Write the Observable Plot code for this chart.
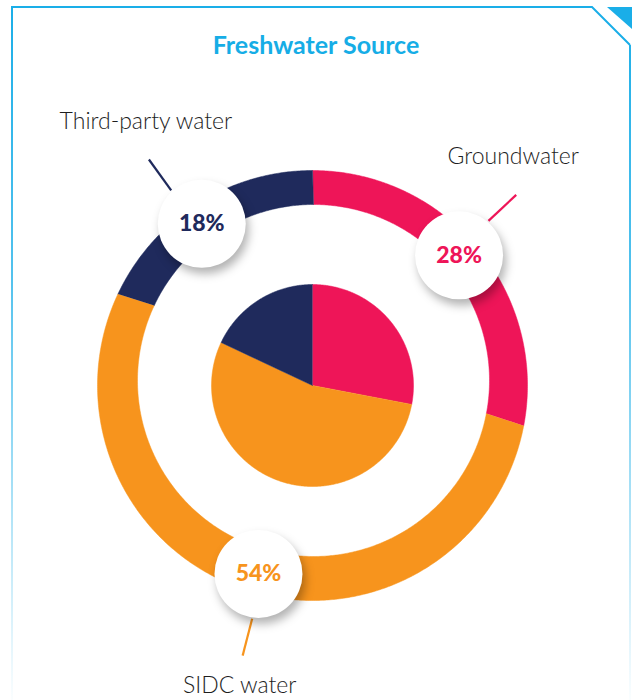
<!DOCTYPE html>
<html>
<head>
<meta charset="utf-8">
<script src="https://cdn.jsdelivr.net/npm/d3@7"></script>
<script src="https://cdn.jsdelivr.net/npm/@observablehq/plot@0.6"></script>
<style>
  html, body { margin: 0; padding: 0; background: #fff; }
  #wrap { position: relative; width: 632px; height: 700px; overflow: hidden; font-family: Lato, "Open Sans", sans-serif; }
  #title { box-sizing: border-box; height: 70px; padding-top: 32px; text-align: center; font-size: 25px; line-height: 24px; font-weight: 700; color: #16ade6; }
  #frame { position: absolute; left: 0; top: 0; pointer-events: none; }
  #chart svg { display: block; }
</style>
</head>
<body>
<div id="wrap">
  <svg id="frame" width="632" height="700">
    <defs>
      <linearGradient id="fade" gradientUnits="userSpaceOnUse" x1="0" y1="0" x2="0" y2="700">
        <stop offset="0" stop-color="#1aaee8" stop-opacity="1"/>
        <stop offset="0.4" stop-color="#1aaee8" stop-opacity="0.75"/>
        <stop offset="1" stop-color="#1aaee8" stop-opacity="0.02"/>
      </linearGradient>
    </defs>
    <path d="M12,7 H592 L630,45" fill="none" stroke="#1aaee8" stroke-width="2"/>
    <line x1="12" y1="6" x2="12" y2="700" stroke="url(#fade)" stroke-width="2"/>
    <line x1="630" y1="45" x2="630" y2="700" stroke="url(#fade)" stroke-width="2"/>
    <polygon points="607,7 632,7 632,29" fill="#1aaee8"/>
  </svg>
  <div id="title">Freshwater Source</div>
  <div id="chart"></div>
</div>
<script>
// ---- data ----
const categories = ["Groundwater", "SIDC water", "Third-party water"];
const shares = [28, 54, 18];
const pctLabels = ["28%", "54%", "18%"];

// ---- styling ----
const palette = ["#ee1558", "#f7941d", "#1f2a5c"];
const R_OUT = 215, R_IN = 176, HOLE_DX = 1, HOLE_DY = 5, R_PIE = 101;
const R_BUBBLE = 196, BUBBLE_SHIFT = -2;
const LEAD0 = 241, LEAD1 = 279, LEAD_SHIFT = -3.5, GAP_TOP = 38, GAP_BOTTOM = 30, LABEL_DX = -3;

const total = d3.sum(shares);
let acc = 0;
const slices = categories.map((cat, i) => {
  const a0 = acc / total * 360;
  acc += shares[i];
  const a1 = acc / total * 360;
  return {cat, value: shares[i], label: pctLabels[i], a0, a1, mid: (a0 + a1) / 2};
});

const rad = (deg) => deg * Math.PI / 180;
const pt = (r, deg, cx = 0, cy = 0) => ({x: cx + r * Math.sin(rad(deg)), y: cy + r * Math.cos(rad(deg))});
function arc(r, a0, a1, cx = 0, cy = 0) {
  const n = Math.max(2, Math.ceil(Math.abs(a1 - a0) / 0.5));
  return d3.range(n + 1).map(k => pt(r, a0 + (a1 - a0) * k / n, cx, cy));
}

const ringRows = slices.flatMap(s => [
  ...arc(R_OUT, s.a0, s.a1),
  ...arc(R_IN, s.a1, s.a0, HOLE_DX, HOLE_DY)
].map(p => ({...p, cat: s.cat})));

const pieRows = slices.flatMap(s => [
  {x: 0, y: 0},
  ...arc(R_PIE, s.a0, s.a1)
].map(p => ({...p, cat: s.cat})));

const bubbles = slices.map(s => ({...pt(R_BUBBLE, s.mid + BUBBLE_SHIFT), cat: s.cat, label: s.label}));
const leaders = slices.map(s => {
  const p0 = pt(LEAD0, s.mid + LEAD_SHIFT), p1 = pt(LEAD1, s.mid + LEAD_SHIFT);
  return {x1: p0.x, y1: p0.y, x2: p1.x, y2: p1.y, cat: s.cat};
});
// upper labels sit above their leader end, lower labels below it
const names = leaders.map(l => ({
  x: l.x2 + LABEL_DX,
  y: l.y2 > 0 ? l.y2 + GAP_TOP : l.y2 - GAP_BOTTOM,
  cat: l.cat
}));

const chart = Plot.plot({
  width: 632,
  height: 630,
  margin: 0,
  x: {domain: [-312, 320], axis: null},
  y: {domain: [-315, 315], axis: null},
  color: {domain: categories, range: palette},
  style: {background: "transparent", overflow: "visible", fontFamily: "Lato, 'Open Sans', sans-serif"},
  marks: [
    Plot.line(ringRows, {x: "x", y: "y", z: "cat", fill: "cat", stroke: "cat", strokeWidth: 0.5, curve: "linear"}),
    Plot.line(pieRows, {x: "x", y: "y", z: "cat", fill: "cat", stroke: "cat", strokeWidth: 0.5, curve: "linear"}),
    Plot.link(leaders, {x1: "x1", y1: "y1", x2: "x2", y2: "y2", stroke: "cat", strokeWidth: 2.2}),
    Plot.dot(bubbles, {x: "x", y: "y", r: 44, fill: "white", stroke: null}),
    Plot.text(bubbles, {x: "x", y: "y", text: "label", fill: "cat", fontSize: 23, fontWeight: 900, textAnchor: "middle", lineAnchor: "middle"}),
    Plot.text(names, {x: "x", y: "y", text: "cat", fill: "#1e1e1e", fontSize: 23, fontWeight: 300, textAnchor: "middle", lineAnchor: "middle"})
  ]
});
d3.select(chart).selectAll("circle").style("filter", "drop-shadow(3px 6px 5px rgba(0,0,0,0.30))");
document.getElementById("chart").appendChild(chart);
</script>
</body>
</html>
